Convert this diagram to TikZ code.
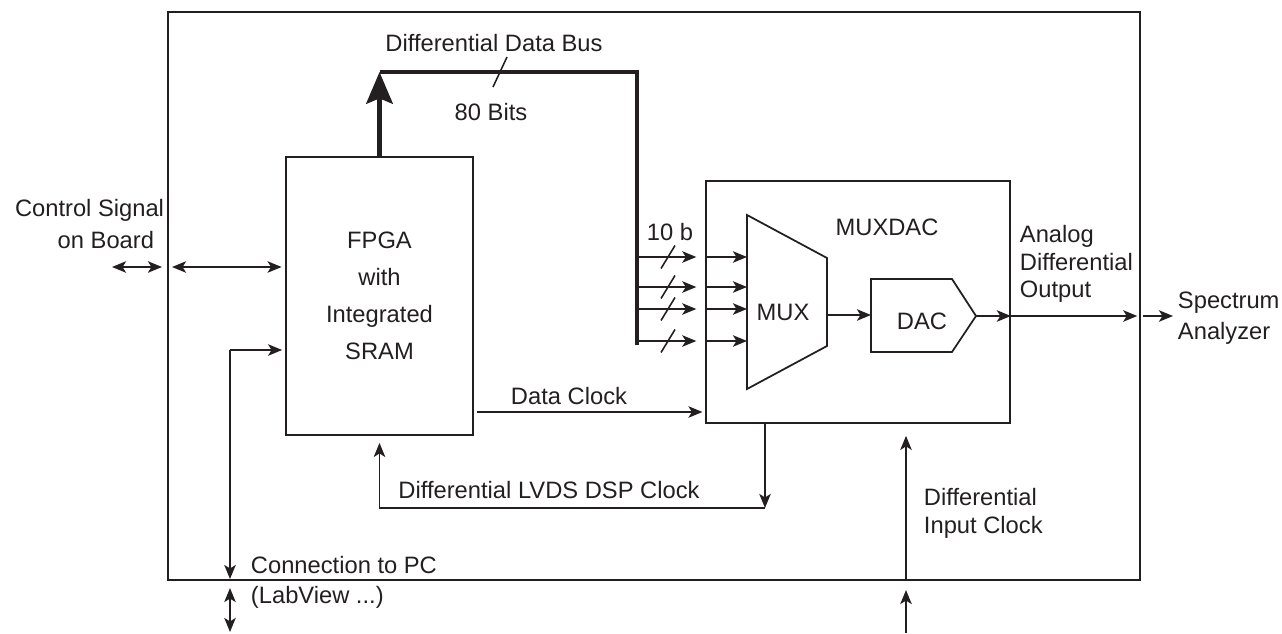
\documentclass[tikz,border=0pt]{standalone}
\usepackage{fontspec}
\setmainfont{Liberation Sans}
\usetikzlibrary{arrows.meta, positioning, calc}
\definecolor{inkGray}{RGB}{35,31,32}

\begin{document}
\begin{tikzpicture}[
    line width=1.1pt, draw=inkGray,
    every node/.style={font=\fontsize{13.5}{16}\selectfont, text=inkGray, inner sep=0pt},
    sig/.style={-{Stealth[length=8pt,width=6.5pt,inset=2pt]}},
    bisig/.style={{Stealth[length=8pt,width=6.5pt,inset=2pt]}-{Stealth[length=8pt,width=6.5pt,inset=2pt]}},
    blk/.style={draw=inkGray, line width=1pt},
    bus/.style={line width=2.8pt},
    tick/.style={line width=0.9pt}
  ]
  \useasboundingbox (0,0) rectangle (25.64,12.66);

  % blocks
  \node[blk, line width=0.9pt, minimum width=19.44cm, minimum height=11.36cm] (board) at (13.08,6.74) {};
  \node[blk, minimum width=3.74cm, minimum height=5.56cm, align=center,
        font=\fontsize{13.5}{21}\selectfont] (fpga) at (7.59,6.74) {FPGA\\with\\Integrated\\SRAM};
  \node[blk, minimum width=6.08cm, minimum height=4.84cm] (muxdac) at (17.16,6.62) {};
  \node (muxdacname) at (17.74,8.12) {MUXDAC};
  \draw[line width=1pt] (14.94,8.36) -- (16.54,7.5) -- (16.54,5.74) -- (14.94,4.88) -- cycle;
  \node (mux) at (15.66,6.42) {MUX};
  \draw[line width=1pt] (17.42,7.08) -- (19.04,7.08) -- (19.52,6.34) coordinate (dacout)
    -- (19.04,5.62) -- (17.42,5.62) -- cycle;
  \node (dac) at (18.44,6.24) {DAC};

  % data bus
  \coordinate (busTL) at (7.59,11.22);
  \coordinate (busTR) at (12.74,11.22);
  \coordinate (busB) at (12.74,5.76);
  \draw[bus, -{Stealth[length=18pt,width=15pt,inset=3pt]}] (fpga.north) -- (busTL);
  \draw[bus] (busTL) -- (busTR) -- (busB);
  \draw[tick] (9.86,10.92) -- (10.14,11.52);
  \node (busname) at (9.88,11.8) {Differential Data Bus};
  \node (buswidth) at (9.82,10.42) {80 Bits};
  \node (lanewidth) at (13.4,8.02) {10 b};
  \foreach \y in {7.52,6.92,6.48,5.84}{
    \draw[sig, shorten >=5pt] (busB |- 0,\y) -- (muxdac.west |- 0,\y);
    \draw[tick] (13.22,\y-0.23) -- (13.50,\y+0.23);
    \draw[sig, shorten <=1pt] (muxdac.west |- 0,\y) -- (14.94,\y);
  }

  % inside MUXDAC and output
  \draw[sig] (16.54,6.36) -- (17.42,6.36);
  \draw[sig] (dacout) -- (muxdac.east |- dacout);
  \draw[sig, shorten >=2pt] (muxdac.east |- dacout) -- (board.east |- dacout);
  \draw[sig, shorten <=1pt] (board.east |- dacout) -- (23.46,6.34);
  \node[align=left, anchor=west, font=\fontsize{13.5}{15.5}\selectfont] (aout) at (20.38,7.38) {Analog\\Differential\\Output};
  \node[align=left, anchor=west, font=\fontsize{13.5}{17.5}\selectfont] (spec) at (23.54,6.3) {Spectrum\\Analyzer};

  % control signal
  \draw[bisig] (2.24,7.32) -- (3.24,7.32);
  \draw[bisig, shorten >=2pt] (3.44,7.32) -- (fpga.west |- 0,7.32);
  \node[anchor=east] (ctrl) at (3.3,8.46) {Control Signal};
  \node[anchor=east] (ctrlb) at (3.1,7.86) {on Board};

  % clocks
  \draw[sig, shorten <=2pt, shorten >=1.5pt] (fpga.east |- 0,4.42) -- (muxdac.west |- 0,4.42);
  \node (dclk) at (11.38,4.74) {Data Clock};
  \coordinate (lvdsR) at (15.3,2.5);
  \draw[sig] (muxdac.south -| lvdsR) -- (lvdsR);
  \draw[sig, shorten >=4pt] (lvdsR) -| (fpga.south);
  \node (lvds) at (10.98,2.86) {Differential LVDS DSP Clock};

  \coordinate (iclk) at (18.12,0);
  \draw[sig, shorten >=6.8pt] (board.south -| iclk) -- (iclk |- muxdac.south);
  \draw[sig] (iclk) -- (18.12,0.86);
  \node[align=left, anchor=west] (iclkname) at (18.46,2.4) {Differential\\Input Clock};

  % connection to PC
  \coordinate (pcTop) at (4.6,5.66);
  \draw[sig, shorten >=1.7pt] (pcTop) -- (pcTop -| fpga.west);
  \draw[sig, shorten >=1pt] (pcTop) -- (pcTop |- board.south);
  \draw[bisig] (4.6,0.9) -- (4.6,0.02);
  \node[align=left, anchor=west, font=\fontsize{13.5}{17}\selectfont] (pc) at (5.0,1.02) {Connection to PC\\(LabView ...)};
\end{tikzpicture}
\end{document}
